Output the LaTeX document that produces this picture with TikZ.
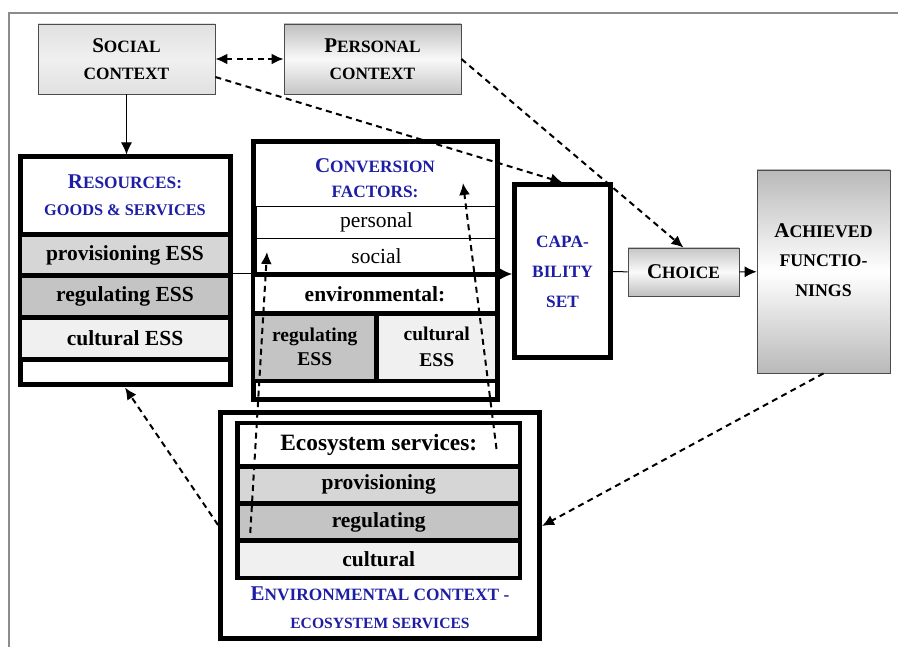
\documentclass[tikz,border=0pt]{standalone}
\usepackage{fontspec}
\setmainfont{Liberation Serif}
\usetikzlibrary{arrows.meta}
\definecolor{provgray}{gray}{0.84}
\definecolor{reggray}{gray}{0.77}
\definecolor{cultgray}{gray}{0.94}
\definecolor{capblue}{RGB}{30,30,165}
\newcommand\bigini[1]{{\fontsize{21}{27}\selectfont#1}}
\begin{document}
\begin{tikzpicture}[x=1pt,y=-1pt,line join=miter,>={Latex[length=12pt,width=11pt]},
  ctx/.style={draw=black!70,line width=0.8pt,align=center,inner sep=0pt,
    font=\fontsize{17.3}{27}\selectfont\bfseries},
  heavybox/.style={draw,line width=5pt,fill=white,inner sep=0pt},
  slab/.style={draw,line width=4.5pt,inner sep=0pt,font=\fontsize{21.5}{25}\selectfont\bfseries},
  thinslab/.style={draw,line width=0.7pt,inner sep=0pt,font=\fontsize{21.5}{25}\selectfont},
  bluecap/.style={text=capblue,align=center,inner sep=0pt,font=\fontsize{17.3}{25}\selectfont\bfseries},
  dashflow/.style={-{Latex[length=12pt,width=11pt]},dash pattern=on 6pt off 4.5pt,line width=2pt},
  flowline/.style={line width=1pt}]
\useasboundingbox (0,0) rectangle (898,647);
\draw[black!45,line width=1.5pt] (9,647)--(9,13)--(898,13);

\node[ctx,top color=gray!24,bottom color=gray!24,middle color=gray!12,minimum width=177pt,minimum height=70pt] (soc) at (126.5,59) {\bigini{S}OCIAL\\CONTEXT};
\node[ctx,top color=gray!50,bottom color=gray!45,middle color=gray!5,minimum width=177pt,minimum height=70pt] (pers) at (372.5,59) {\bigini{P}ERSONAL\\CONTEXT};

\node[heavybox,minimum width=210pt,minimum height=228pt] (res) at (125,271) {};
\node[bluecap,anchor=base] (restitle) at (125,189) {\bigini{R}ESOURCES:};
\node[bluecap,anchor=base,font=\fontsize{16.3}{20}\selectfont\bfseries] (resgoods) at (125,216) {GOODS \& SERVICES};
\node[slab,fill=provgray,minimum width=210pt,minimum height=41pt] (resprov) at (125,255) {provisioning ESS};
\node[slab,fill=reggray,minimum width=210pt,minimum height=42pt] (resreg) at (125,296.5) {regulating ESS};
\node[slab,fill=cultgray,minimum width=210pt,minimum height=42pt] (rescult) at (125,338.5) {cultural ESS};

\node[heavybox,minimum width=244pt,minimum height=258pt] (conv) at (375,271) {};
\node[bluecap] (convtitle) at (375,178) {\bigini{C}ONVERSION\\FACTORS:};
\node[thinslab,minimum width=241pt,minimum height=32pt] (cpers) at (376.5,222) {personal};
\node[thinslab,minimum width=241pt,minimum height=36pt] (csoc) at (376.5,256) {social};
\node[heavybox,minimum width=244pt,minimum height=106pt] (env) at (375,328) {};
\node[slab,fill=white,minimum width=244pt,minimum height=38.5pt] (envhead) at (375,294.25) {environmental:};
\node[slab,fill=reggray,minimum width=123.5pt,minimum height=67.5pt,align=center,font=\fontsize{19.5}{24}\selectfont\bfseries] (envreg) at (314.75,347.25) {regulating\\ESS};
\node[slab,fill=cultgray,minimum width=120.5pt,minimum height=67.5pt,align=center,font=\fontsize{19.5}{26}\selectfont\bfseries] (envcult) at (436.75,347.25) {cultural\\ESS};

\node[heavybox,minimum width=96pt,minimum height=173pt,align=center,text=capblue,font=\fontsize{17.3}{30}\selectfont\bfseries] (cap) at (562.5,271.5) {CAPA-\\BILITY\\SET};
\node[ctx,top color=gray!45,bottom color=gray!50,middle color=gray!4,minimum width=111pt,minimum height=48pt] (choice) at (683.5,272) {\bigini{C}HOICE};
\node[ctx,top color=gray!55,bottom color=gray!55,middle color=white,minimum width=133pt,minimum height=203pt] (ach) at (823.5,271.5) {};
\node[ctx,draw=none,font=\fontsize{17.8}{29.5}\selectfont\bfseries] (achtext) at (823.5,260) {\bigini{A}CHIEVED\\FUNCTIO-\\NINGS};

\node[heavybox,minimum width=319pt,minimum height=226pt] (envctx) at (380,525) {};
\node[slab,fill=white,minimum width=282.5pt,minimum height=43.3pt,font=\fontsize{23.4}{28}\selectfont\bfseries] (ecohead) at (378.75,444.65) {Ecosystem services:};
\node[slab,fill=provgray,minimum width=282.5pt,minimum height=37pt] (ecoprov) at (378.75,484.8) {provisioning};
\node[slab,fill=reggray,minimum width=282.5pt,minimum height=37.4pt] (ecoreg) at (378.75,522) {regulating};
\node[slab,fill=cultgray,minimum width=282.5pt,minimum height=37.3pt] (ecocult) at (378.75,559.35) {cultural};
\node[bluecap,anchor=base] (envlbl) at (380,600) {\bigini{E}NVIRONMENTAL CONTEXT -};
\node[bluecap,anchor=base,font=\fontsize{15.6}{20}\selectfont\bfseries] (ecolbl) at (380,628) {ECOSYSTEM SERVICES};

\draw[flowline,->] (soc) -- (soc.south |- res.north);
\draw[flowline,->] ([yshift=-3pt]res.east) -- ([yshift=-2.5pt]cap.west);
\draw[flowline] (cap) -- (choice);
\draw[flowline,->] (choice) -- (ach);
\draw[dashflow,{Latex[length=12pt,width=11pt]}-{Latex[length=12pt,width=11pt]}] (soc) -- (pers);
\draw[dashflow] ([yshift=-18pt]soc.east) -- (cap.north);
\draw[dashflow] (pers.east) -- (choice.north);
\draw[dashflow] (ach.south) -- ([yshift=-1pt]envctx.east);
\draw[dashflow] (envctx.west) -- (res.south);
\draw[dashflow] ([xshift=15pt,yshift=10pt]ecoreg.south west) -- ([xshift=11.35pt,yshift=4pt]csoc.west);
\draw[dashflow] ([xshift=-25.75pt,yshift=-4.35pt]ecohead.east) -- ([xshift=-34.35pt,yshift=22.65pt]cpers.north east);
\end{tikzpicture}
\end{document}
